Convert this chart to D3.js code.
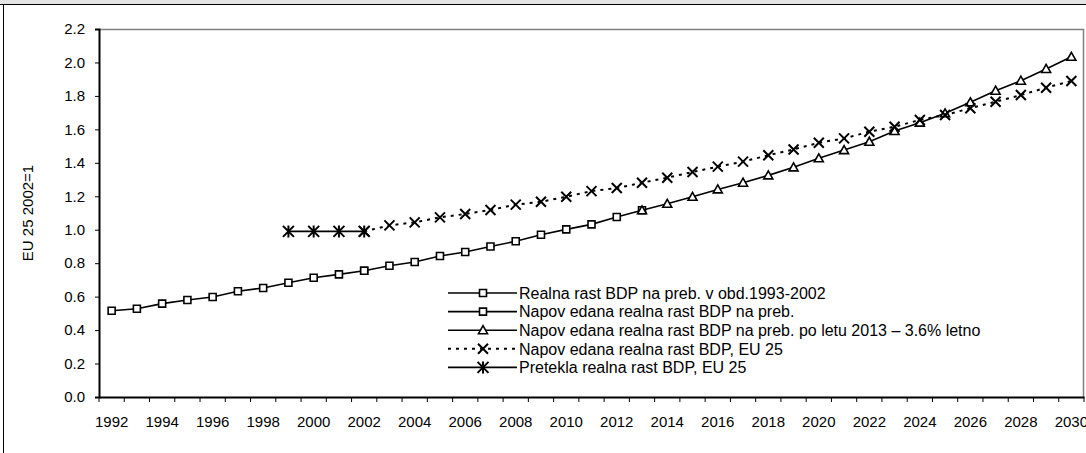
<!doctype html>
<html>
  <head>
    <meta charset="utf-8">
    <title>Rast BDP</title>
    <script src="https://cdn.jsdelivr.net/npm/d3@7"></script>
    <style>
      body { margin: 0; background: #fff; }
      text { font-family: Arial, "Liberation Sans", sans-serif; fill: #000; }
    </style>
  </head>
  <body>
    <script>
      // kategorije (leta) in vrednosti serij, prebrane s slike
      const years = d3.range(1992, 2031);
      const yTicks = [0, 0.2, 0.4, 0.6, 0.8, 1.0, 1.2, 1.4, 1.6, 1.8, 2.0, 2.2];

      const realYears = d3.range(1992, 2003);
      const realValues = [0.516, 0.528, 0.558, 0.58, 0.598, 0.632, 0.652, 0.683, 0.713, 0.733, 0.755];

      const forecastYears = d3.range(2002, 2014);
      const forecastValues = [0.755, 0.785, 0.807, 0.843, 0.867, 0.90, 0.931, 0.97, 1.002, 1.032, 1.076, 1.116];

      const after2013Years = d3.range(2013, 2031);
      const after2013Values = [1.116, 1.155, 1.197, 1.241, 1.281, 1.325, 1.373, 1.427, 1.476, 1.526,
                               1.59, 1.64, 1.696, 1.762, 1.831, 1.891, 1.961, 2.034];

      const euForecastYears = d3.range(2002, 2031);
      const euForecastValues = [0.99, 1.026, 1.044, 1.074, 1.094, 1.118, 1.15, 1.167, 1.197, 1.231,
                                1.249, 1.281, 1.311, 1.345, 1.377, 1.407, 1.445, 1.48, 1.52, 1.546,
                                1.586, 1.616, 1.656, 1.686, 1.726, 1.765, 1.805, 1.849, 1.889];

      const euPastYears = d3.range(1999, 2003);
      const euPastValues = [0.99, 0.99, 0.99, 0.99];

      const seriesNames = [
        'Realna rast BDP na preb. v  obd.1993-2002',
        'Napov edana realna rast BDP na preb.',
        'Napov edana realna rast BDP na preb. po letu 2013 – 3.6% letno',
        'Napov edana realna rast BDP, EU 25',
        'Pretekla realna rast BDP, EU 25'
      ];

      const width = 1086, height = 453;
      const plotLeft = 99, plotRight = 1084, plotTop = 29, plotBottom = 397;

      // oznake
      const markers = {
        square: 'M-3.5,-3.5h7v7h-7Z',
        triangle: 'M0,-4.5L4.5,3.5L-4.5,3.5Z',
        cross: 'M-5,-5L5,5M-5,5L5,-5',
        star: 'M-5.5,-5.5L5.5,5.5M-5.5,5.5L5.5,-5.5M0,-6L0,6'
      };
      const markerStroke = { square: 1.6, triangle: 1.6, cross: 2, star: 2 };

      const series = [
        { years: realYears, values: realValues, marker: 'square', dash: null, lw: 1.6 },
        { years: forecastYears, values: forecastValues, marker: 'square', dash: null, lw: 1.6 },
        { years: after2013Years, values: after2013Values, marker: 'triangle', dash: null, lw: 1.6 },
        { years: euForecastYears, values: euForecastValues, marker: 'cross', dash: '3,5', lw: 2 },
        { years: euPastYears, values: euPastValues, marker: 'star', dash: null, lw: 1.6 }
      ];

      const svg = d3.select('body').append('svg')
          .attr('width', width)
          .attr('height', height);

      // okvir grafikona
      svg.append('rect').attr('x', 0).attr('y', 0).attr('width', width).attr('height', 4).attr('fill', '#e4e4e4');
      svg.append('line').attr('x1', 0).attr('x2', width).attr('y1', 4.5).attr('y2', 4.5).attr('stroke', '#000');
      svg.append('line').attr('x1', 3.5).attr('x2', 3.5).attr('y1', 4).attr('y2', height).attr('stroke', '#000');

      const x = d3.scaleBand().domain(years).range([plotLeft, plotRight]).padding(0);
      const y = d3.scaleLinear().domain([0, 2.2]).range([plotBottom, plotTop]);

      // okvir risalne površine
      svg.append('path')
          .attr('d', `M${plotLeft},${plotTop + 0.5}H${plotRight - 0.5}V${plotBottom}`)
          .attr('fill', 'none')
          .attr('stroke', '#808080')
          .attr('stroke-width', 1.5);

      // os y
      const yAxis = svg.append('g')
          .attr('transform', `translate(${plotLeft},0)`)
          .call(d3.axisLeft(y).tickValues(yTicks).tickFormat(d3.format('.1f')).tickSize(4).tickPadding(10));
      yAxis.select('.domain').attr('stroke-width', 2);
      yAxis.selectAll('text').style('font-size', '15px');

      // os x
      const xAxis = svg.append('g')
          .attr('transform', `translate(0,${plotBottom})`)
          .call(d3.axisBottom(x).tickSize(0).tickSizeOuter(0).tickPadding(19)
            .tickFormat(d => (d - 1992) % 2 === 0 ? d : ''));
      xAxis.select('.domain').attr('stroke-width', 2);
      xAxis.selectAll('text').style('font-size', '15px');
      xAxis.selectAll('.bound')
        .data(years.concat([null]))
        .enter().append('line')
          .attr('class', 'bound')
          .attr('x1', (d, i) => plotLeft + i * x.step())
          .attr('x2', (d, i) => plotLeft + i * x.step())
          .attr('y1', 0)
          .attr('y2', 5)
          .attr('stroke', '#000');

      svg.append('text')
          .attr('transform', `translate(33,${(plotTop + plotBottom) / 2}) rotate(-90)`)
          .attr('text-anchor', 'middle')
          .style('font-size', '15px')
          .text('EU 25 2002=1');

      const line = d3.line()
          .x(d => x(d[0]) + x.bandwidth() / 2)
          .y(d => y(d[1]));

      series.forEach(s => {
        const pts = s.years.map((yr, i) => [yr, s.values[i]]);
        svg.append('path')
            .datum(pts)
            .attr('d', line)
            .attr('fill', 'none')
            .attr('stroke', '#000')
            .attr('stroke-width', s.lw)
            .attr('stroke-dasharray', s.dash);
        svg.selectAll(null)
          .data(pts)
          .enter().append('path')
            .attr('transform', d => `translate(${x(d[0]) + x.bandwidth() / 2},${y(d[1])})`)
            .attr('d', markers[s.marker])
            .attr('fill', '#fff')
            .attr('stroke', '#000')
            .attr('stroke-width', markerStroke[s.marker]);
      });

      // legenda
      const legend = svg.append('g').attr('transform', 'translate(448,293)');
      const rows = legend.selectAll('g')
        .data(series)
        .enter().append('g')
          .attr('transform', (d, i) => `translate(0,${i * 18.6})`);
      rows.append('line')
          .attr('x1', 0).attr('x2', 69)
          .attr('stroke', '#000')
          .attr('stroke-width', d => d.lw)
          .attr('stroke-dasharray', d => d.dash);
      rows.append('path')
          .attr('transform', 'translate(35,0)')
          .attr('d', d => markers[d.marker])
          .attr('fill', '#fff')
          .attr('stroke', '#000')
          .attr('stroke-width', d => markerStroke[d.marker]);
      rows.append('text')
          .attr('x', 71)
          .attr('dy', '0.36em')
          .style('font-size', '16px')
          .text((d, i) => seriesNames[i]);
    </script>
  </body>
</html>
